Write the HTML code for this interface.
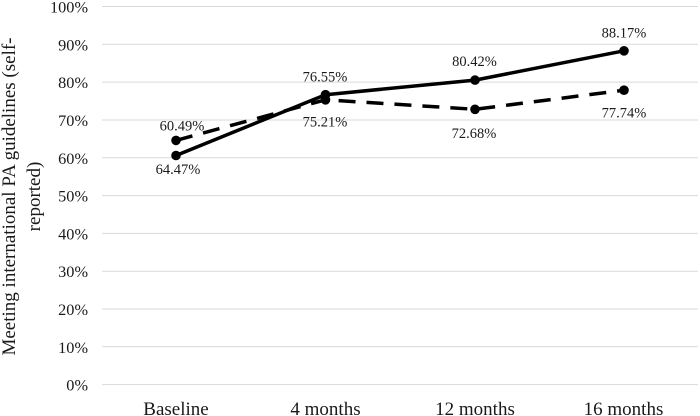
<!DOCTYPE html>
<html>
<head>
<meta charset="utf-8">
<style>
  html, body { margin: 0; padding: 0; background: #ffffff; }
  svg { display: block; }
  text { font-family: "Liberation Serif", "Times New Roman", serif; fill: #1a1a1a; }
</style>
</head>
<body>
<svg width="700" height="416" viewBox="0 0 700 416" xmlns="http://www.w3.org/2000/svg">
  <rect width="700" height="416" fill="#ffffff"/>
  <!-- gridlines -->
  <g stroke="#d9d9d9" stroke-width="1">
    <line x1="102" y1="6.5" x2="698" y2="6.5"/>
    <line x1="102" y1="44.3" x2="698" y2="44.3"/>
    <line x1="102" y1="82.1" x2="698" y2="82.1"/>
    <line x1="102" y1="120" x2="698" y2="120"/>
    <line x1="102" y1="157.8" x2="698" y2="157.8"/>
    <line x1="102" y1="195.6" x2="698" y2="195.6"/>
    <line x1="102" y1="233.4" x2="698" y2="233.4"/>
    <line x1="102" y1="271.2" x2="698" y2="271.2"/>
    <line x1="102" y1="309" x2="698" y2="309"/>
    <line x1="102" y1="346.8" x2="698" y2="346.8"/>
    <line x1="102" y1="384.6" x2="698" y2="384.6"/>
  </g>
  <!-- y tick labels -->
  <g font-size="16.3" text-anchor="end">
    <text x="88" y="12.5">100%</text>
    <text x="88" y="50.3">90%</text>
    <text x="88" y="88.1">80%</text>
    <text x="88" y="126">70%</text>
    <text x="88" y="163.8">60%</text>
    <text x="88" y="201.6">50%</text>
    <text x="88" y="239.4">40%</text>
    <text x="88" y="277.2">30%</text>
    <text x="88" y="315">20%</text>
    <text x="88" y="352.8">10%</text>
    <text x="88" y="390.6">0%</text>
  </g>
  <!-- y axis title -->
  <g font-size="19" text-anchor="middle">
    <text transform="translate(15,196.5) rotate(-90)" x="0" y="0">Meeting international PA guidelines (self-</text>
    <text transform="translate(40,196.5) rotate(-90)" x="0" y="0">reported)</text>
  </g>
  <!-- x labels -->
  <g font-size="19" text-anchor="middle">
    <text x="176" y="415">Baseline</text>
    <text x="325.5" y="415">4 months</text>
    <text x="475" y="415">12 months</text>
    <text x="623.5" y="415">16 months</text>
  </g>
  <!-- dashed series -->
  <polyline points="176,140.4 325.5,99.8 475,109.3 624,90.2" fill="none" stroke="#000" stroke-width="3.5" stroke-dasharray="17,11" stroke-linejoin="round"/>
  <!-- solid series -->
  <polyline points="176,155.5 325.5,94.7 475,80.1 624,50.8" fill="none" stroke="#000" stroke-width="3.5" stroke-linejoin="round"/>
  <!-- markers -->
  <g fill="#000">
    <circle cx="176" cy="140.4" r="4.8"/>
    <circle cx="325.5" cy="99.8" r="4.8"/>
    <circle cx="475" cy="109.3" r="4.8"/>
    <circle cx="624" cy="90.2" r="4.8"/>
    <circle cx="176" cy="155.5" r="4.8"/>
    <circle cx="325.5" cy="94.7" r="4.8"/>
    <circle cx="475" cy="80.1" r="4.8"/>
    <circle cx="624" cy="50.8" r="4.8"/>
  </g>
  <!-- data labels -->
  <g font-size="14.5" text-anchor="middle">
    <text x="182" y="130.5">60.49%</text>
    <text x="178" y="174">64.47%</text>
    <text x="325" y="81.5">76.55%</text>
    <text x="325" y="126.5">75.21%</text>
    <text x="474.5" y="66">80.42%</text>
    <text x="474" y="137.8">72.68%</text>
    <text x="624" y="37.5">88.17%</text>
    <text x="624" y="117.5">77.74%</text>
  </g>
</svg>
</body>
</html>
